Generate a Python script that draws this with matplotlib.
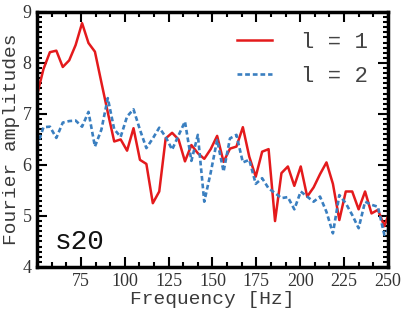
import matplotlib
matplotlib.use("Agg")
import matplotlib.pyplot as plt
from matplotlib.ticker import AutoMinorLocator

# frecuencias (Hz) y amplitudes
freq = [50.0, 53.67, 57.33, 61.0, 64.67, 68.33, 72.0, 75.67, 79.33, 83.0,
        86.67, 90.33, 94.0, 97.67, 101.33, 105.0, 108.67, 112.33, 116.0, 119.67,
        123.33, 127.0, 130.67, 134.33, 138.0, 141.67, 145.33, 149.0, 152.67, 156.33,
        160.0, 163.67, 167.33, 171.0, 174.67, 178.33, 182.0, 185.67, 189.33, 193.0,
        196.67, 200.33, 204.0, 207.67, 211.33, 215.0, 218.67, 222.33, 226.0, 229.67,
        233.33, 237.0, 240.67, 244.33, 248.0, 251.67]

amp_l1 = [7.37, 7.88, 8.21, 8.24, 7.92, 8.05, 8.35, 8.78, 8.39, 8.22,
          7.62, 7.03, 6.46, 6.50, 6.28, 6.72, 6.10, 6.02, 5.25, 5.48,
          6.52, 6.63, 6.50, 6.07, 6.39, 6.23, 6.12, 6.31, 6.57, 6.06,
          6.32, 6.36, 6.74, 6.16, 5.77, 6.26, 6.31, 4.90, 5.84, 5.97,
          5.59, 5.97, 5.38, 5.56, 5.82, 6.05, 5.63, 4.92, 5.48, 5.48,
          5.13, 5.48, 5.05, 5.12, 4.80, 5.15]

amp_l2 = [6.36, 6.74, 6.75, 6.53, 6.83, 6.86, 6.87, 6.75, 7.04, 6.36,
          6.69, 7.31, 6.70, 6.55, 6.95, 7.09, 6.69, 6.33, 6.52, 6.73,
          6.55, 6.30, 6.58, 6.85, 6.08, 6.59, 5.28, 5.85, 6.49, 5.87,
          6.52, 6.59, 6.05, 6.10, 5.63, 5.74, 5.54, 5.45, 5.35, 5.37,
          5.13, 5.48, 5.38, 5.28, 5.38, 5.08, 4.66, 5.41, 5.25, 5.02,
          4.76, 5.28, 5.22, 5.18, 4.63, 4.80]

xticks = [75, 100, 125, 150, 175, 200, 225, 250]
yticks = [4, 5, 6, 7, 8, 9]

fig = plt.figure(figsize=(4.07, 3.13), dpi=100)
ax = fig.add_axes([0.091, 0.147, 0.862, 0.815])

ax.plot(freq, amp_l1, color='#e41a1c', lw=1.8, label='l = 1')
ax.plot(freq, amp_l2, color='#3a7fc0', lw=1.9, linestyle=(0, (1.8, 1.1)), label='l = 2')

ax.set_xlim(50, 250)
ax.set_ylim(4, 9)
ax.set_xticks(xticks)
ax.set_yticks(yticks)
ax.xaxis.set_minor_locator(AutoMinorLocator(3))
ax.yaxis.set_minor_locator(AutoMinorLocator(10))

ax.tick_params(which='both', direction='in', top=True, right=True, width=1.5,
               labelsize=13, labelcolor='#333333', pad=4)
ax.tick_params(which='major', length=7)
ax.tick_params(which='minor', length=3.5)
for lab in ax.get_xticklabels() + ax.get_yticklabels():
    lab.set_fontfamily('Liberation Serif')
for s in ax.spines.values():
    s.set_linewidth(2.5)

ax.set_xlabel('Frequency [Hz]', fontfamily='Liberation Mono', fontsize=14,
              color='#3a3a3a', labelpad=1)
ax.set_ylabel('Fourier amplitudes', fontfamily='Liberation Mono', fontsize=14,
              color='#3a3a3a', labelpad=2)

leg = ax.legend(loc='upper right', frameon=False, handlelength=1.6,
                handletextpad=1.3, prop={'family': 'Liberation Mono', 'size': 16},
                labelspacing=0.6, borderaxespad=0.5)
for t in leg.get_texts():
    t.set_color('#444444')

ax.text(0.05, 0.07, 's20', transform=ax.transAxes, fontfamily='Liberation Mono',
        fontsize=20, color='#111111')

fig.savefig('out.png', dpi=100)
